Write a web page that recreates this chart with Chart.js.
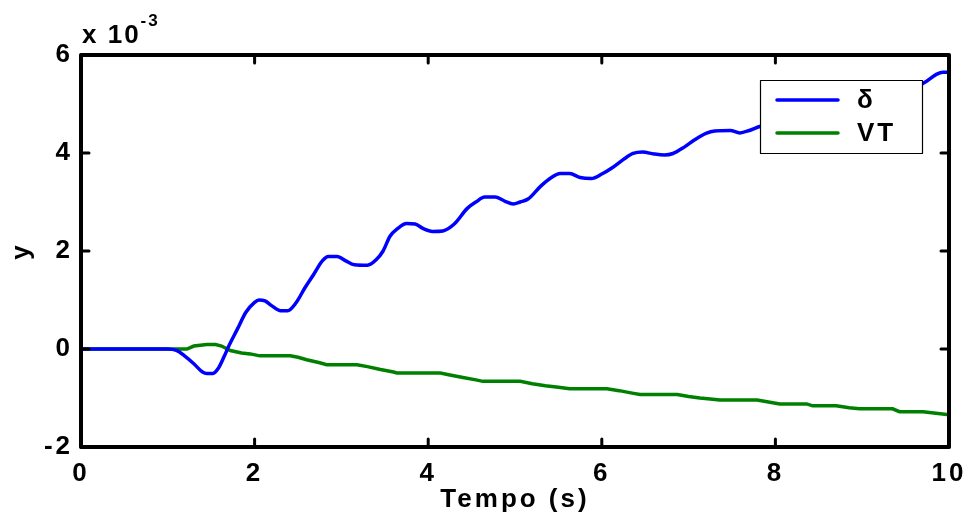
<!DOCTYPE html>
<html>
<head>
<meta charset="utf-8">
<script src="https://cdn.jsdelivr.net/npm/chart.js@4/dist/chart.umd.min.js"></script>
<style>
html,body{margin:0;padding:0;background:#fff;}
#wrap{width:968px;height:525px;}
</style>
</head>
<body>
<div id="wrap"><canvas id="c" width="968" height="525"></canvas></div>
<script>
// Data (y values in units of 10^-3)
const deltaT = [0,0.5,1.0,1.1,1.2,1.3,1.4,1.45,1.52,1.58,1.65,1.7,1.8,1.9,2.0,2.05,2.12,2.2,2.3,2.38,2.48,2.58,2.68,2.78,2.85,2.95,3.05,3.15,3.3,3.4,3.48,3.56,3.65,3.75,3.85,3.95,4.05,4.17,4.3,4.45,4.55,4.65,4.77,4.88,4.98,5.06,5.15,5.3,5.42,5.52,5.63,5.75,5.88,6.0,6.12,6.25,6.36,6.47,6.6,6.72,6.82,6.95,7.08,7.2,7.3,7.48,7.59,7.7,7.82,8.0,8.2,8.5,8.8,9.1,9.4,9.7,9.85,9.93,10];
const deltaY = [0,0,0,-0.03,-0.15,-0.3,-0.47,-0.5,-0.5,-0.4,-0.15,0.05,0.4,0.75,0.95,1.0,0.98,0.88,0.78,0.78,0.95,1.25,1.52,1.8,1.89,1.89,1.8,1.72,1.71,1.82,2.0,2.3,2.46,2.56,2.55,2.45,2.4,2.41,2.55,2.87,3.0,3.1,3.1,3.02,2.96,3.0,3.06,3.33,3.5,3.58,3.58,3.5,3.48,3.57,3.7,3.87,3.99,4.02,3.98,3.96,3.99,4.12,4.28,4.4,4.45,4.46,4.41,4.46,4.54,4.6,4.75,4.9,5.0,5.15,5.3,5.42,5.6,5.65,5.65];
const vtT = [0,1.22,1.3,1.45,1.55,1.62,1.72,1.85,1.95,2.06,2.41,2.5,2.6,2.75,2.83,3.18,3.3,3.45,3.6,3.64,4.14,4.25,4.4,4.55,4.63,5.06,5.2,5.35,5.5,5.63,6.06,6.2,6.35,6.44,6.87,7.0,7.13,7.25,7.36,7.79,7.92,8.05,8.36,8.43,8.7,8.85,8.97,9.35,9.43,9.7,9.85,10];
const vtY = [0,0,0.06,0.09,0.09,0.06,-0.03,-0.08,-0.1,-0.14,-0.14,-0.17,-0.22,-0.28,-0.32,-0.32,-0.36,-0.42,-0.47,-0.49,-0.49,-0.53,-0.58,-0.63,-0.66,-0.66,-0.71,-0.75,-0.78,-0.81,-0.81,-0.85,-0.9,-0.93,-0.93,-0.97,-1.0,-1.02,-1.04,-1.04,-1.08,-1.12,-1.12,-1.16,-1.16,-1.2,-1.22,-1.22,-1.28,-1.28,-1.31,-1.34];
const seriesLabels = ['δ','VT'];
const seriesColors = ['#0000ff','#008000'];
const xTicks = [0,2,4,6,8,10];
const yTicks = [-2,0,2,4,6];
const xTitle = 'Tempo (s)';
const yTitle = 'y';
const expBase = 'x 10';
const expPow = '-3';

const FONT = "'Liberation Sans', Arial, sans-serif";

function toPts(t, v){ return t.map((x,i)=>({x:x, y:v[i]})); }

const spacingPlugin = {
  id:'spacing',
  beforeUpdate(chart){ chart.ctx.letterSpacing = '3px'; },
  beforeDraw(chart){ chart.ctx.letterSpacing = '3px'; }
};

const framePlugin = {
  id:'frame',
  afterDraw(chart){
    const ctx = chart.ctx, a = chart.chartArea;
    const xs = chart.scales.x, ys = chart.scales.y;
    ctx.save();
    ctx.strokeStyle = '#000';
    ctx.lineWidth = 4;
    ctx.lineCap = 'round';
    ctx.lineJoin = 'round';
    ctx.strokeRect(a.left, a.top, a.right - a.left, a.bottom - a.top);
    ctx.lineWidth = 3;
    const L = 8;
    xTicks.forEach(v => {
      const px = xs.getPixelForValue(v);
      ctx.beginPath(); ctx.moveTo(px, a.bottom); ctx.lineTo(px, a.bottom - L); ctx.stroke();
      ctx.beginPath(); ctx.moveTo(px, a.top); ctx.lineTo(px, a.top + L); ctx.stroke();
    });
    yTicks.forEach(v => {
      const py = ys.getPixelForValue(v);
      ctx.beginPath(); ctx.moveTo(a.left, py); ctx.lineTo(a.left + L, py); ctx.stroke();
      ctx.beginPath(); ctx.moveTo(a.right, py); ctx.lineTo(a.right - L, py); ctx.stroke();
    });
    // exponent label
    ctx.fillStyle = '#000';
    ctx.letterSpacing = '2px';
    ctx.textBaseline = 'alphabetic';
    ctx.textAlign = 'left';
    ctx.font = "bold 26px " + FONT;
    ctx.fillText(expBase, a.left + 1, 43);
    const w = ctx.measureText(expBase).width;
    ctx.font = "bold 17px " + FONT;
    ctx.fillText(expPow, a.left + 1 + w, 26);
    // legend
    const bx = 760, by = 80, bw = 162, bh = 73;
    ctx.fillStyle = '#fff';
    ctx.fillRect(bx, by, bw, bh);
    ctx.lineWidth = 1.2;
    ctx.strokeStyle = '#000';
    ctx.strokeRect(bx + 0.5, by + 0.5, bw, bh);
    ctx.letterSpacing = '3px';
    ctx.font = "bold 26px " + FONT;
    ctx.textBaseline = 'middle';
    chart.data.datasets.forEach((ds, i) => {
      const yy = 100 + i * 33;
      ctx.strokeStyle = ds.borderColor;
      ctx.lineWidth = 3.5;
      ctx.lineCap = 'round';
      ctx.beginPath(); ctx.moveTo(777, yy); ctx.lineTo(838, yy); ctx.stroke();
      ctx.fillStyle = '#000';
      ctx.fillText(ds.label, 857, yy + 1);
    });
    ctx.restore();
  }
};

new Chart(document.getElementById('c'), {
  type:'line',
  data:{
    datasets:[
      {label:seriesLabels[0], data:toPts(deltaT, deltaY), borderColor:seriesColors[0], borderWidth:3.5, pointRadius:0, cubicInterpolationMode:'monotone', fill:false},
      {label:seriesLabels[1], data:toPts(vtT, vtY), borderColor:seriesColors[1], borderWidth:3.5, pointRadius:0, tension:0, fill:false}
    ]
  },
  options:{
    responsive:false,
    animation:false,
    events:[],
    layout:{padding:{top:55,right:19,left:0,bottom:0}},
    plugins:{legend:{display:false}, tooltip:{enabled:false}},
    scales:{
      x:{
        type:'linear', min:0, max:10,
        afterBuildTicks(s){ s.ticks = xTicks.map(v=>({value:v})); },
        afterFit(s){ s.height = 78; s.paddingLeft = 0; s.paddingRight = 0; },
        grid:{display:false, drawTicks:false},
        border:{display:false},
        ticks:{color:'#000', padding:11, maxRotation:0, font:{family:FONT, size:26, weight:'bold'}},
        title:{display:true, text:xTitle, color:'#000', padding:{top:0,bottom:10}, font:{family:FONT, size:26, weight:'bold'}}
      },
      y:{
        type:'linear', min:-2, max:6,
        afterBuildTicks(s){ s.ticks = yTicks.map(v=>({value:v})); },
        afterFit(s){ s.width = 81; s.paddingTop = 0; s.paddingBottom = 0; },
        grid:{display:false, drawTicks:false},
        border:{display:false},
        ticks:{color:'#000', padding:8, font:{family:FONT, size:26, weight:'bold'}},
        title:{display:true, text:yTitle, color:'#000', padding:{top:6,bottom:0}, font:{family:FONT, size:26, weight:'bold'}}
      }
    }
  },
  plugins:[spacingPlugin, framePlugin]
});
</script>
</body>
</html>
